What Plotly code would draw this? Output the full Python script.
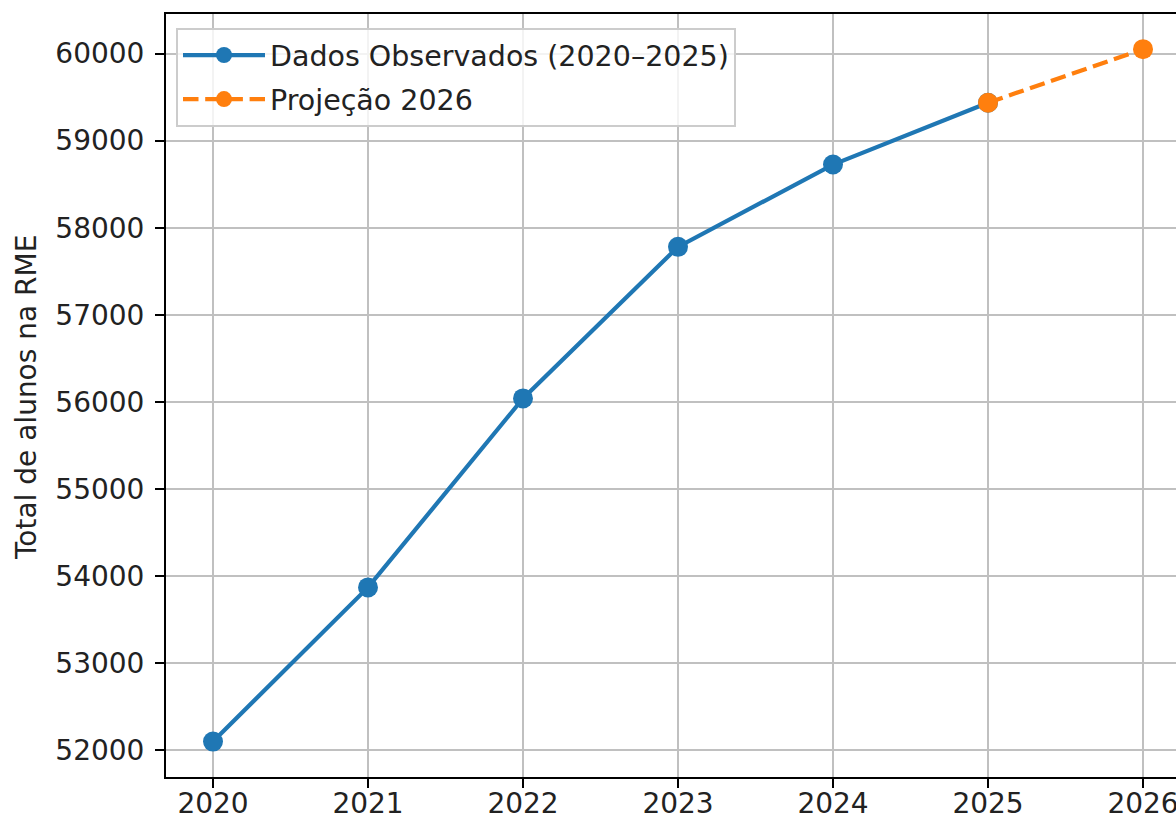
import plotly.graph_objects as go

years_obs = [2020, 2021, 2022, 2023, 2024, 2025]
values_obs = [52100, 53870, 56040, 57780, 58725, 59435]
years_proj = [2025, 2026]
values_proj = [59435, 60050]
x_ticks = [2020, 2021, 2022, 2023, 2024, 2025, 2026]
y_ticks = [52000, 53000, 54000, 55000, 56000, 57000, 58000, 59000, 60000]

BLUE = "#1f77b4"
ORANGE = "#ff7f0e"
FONT = "DejaVu Sans"
TXT = "#222222"
FS = 28

fig = go.Figure()
fig.add_trace(go.Scatter(
    x=years_obs, y=values_obs, mode="lines+markers",
    name="Dados Observados (2020\u20132025)",
    line=dict(color=BLUE, width=4.2),
    marker=dict(color=BLUE, size=20),
    legendgroup="a",
))
fig.add_trace(go.Scatter(
    x=years_proj, y=values_proj, mode="lines+markers",
    name="Proje\u00e7\u00e3o 2026",
    line=dict(color=ORANGE, width=4.2, dash="15.5px,6.7px"),
    marker=dict(color=ORANGE, size=20),
    legendgroup="b",
))

W, H = 1176, 822
L, T, B = 166, 14, 45
R = 0
plot_w = W - L - R
plot_h = H - T - B

fig.update_layout(
    width=W, height=H,
    margin=dict(l=L, r=R, t=T, b=B, autoexpand=False),
    paper_bgcolor="white", plot_bgcolor="white",
    font=dict(family=FONT, size=FS, color=TXT),
    showlegend=True,
    legend=dict(
        x=(176 - L) / plot_w, y=(H - B - 28) / plot_h,
        xanchor="left", yanchor="top",
        bgcolor="rgba(255,255,255,0.8)", bordercolor="#cccccc", borderwidth=2,
        font=dict(family=FONT, size=28.5, color=TXT),
        traceorder="grouped", tracegroupgap=4, itemwidth=82,
    ),
    xaxis=dict(
        range=[2020 - 47 / 155, 2020 + (W - R - 213) / 155],
        tickmode="array", tickvals=x_ticks, ticktext=[str(v) for v in x_ticks],
        showgrid=True, gridcolor="#c0c0c0", gridwidth=2,
        showline=True, linecolor="black", linewidth=2, mirror=True,
        ticks="outside", ticklen=9, tickwidth=2, tickcolor="black",
        zeroline=False, automargin=False, ticklabeloverflow="allow",
        ticklabelstandoff=-9,
        tickfont=dict(family=FONT, size=FS, color=TXT),
    ),
    yaxis=dict(
        range=[52000 - (777 - 750.3) / 0.0871, 52000 + (750.3 - 14) / 0.0871],
        tickmode="array", tickvals=y_ticks, ticktext=[str(v) for v in y_ticks],
        showgrid=True, gridcolor="#c0c0c0", gridwidth=2,
        showline=True, linecolor="black", linewidth=2, mirror=False,
        ticks="outside", ticklen=9, tickwidth=2, tickcolor="black",
        zeroline=False, automargin=False, ticklabelstandoff=5,
        tickfont=dict(family=FONT, size=FS, color=TXT),
    ),
    annotations=[dict(
        text="Total de alunos na RME", textangle=-90,
        xref="paper", yref="paper",
        x=(26 - L) / plot_w, y=(H - B - 398) / plot_h,
        xanchor="center", yanchor="middle", showarrow=False,
        font=dict(family=FONT, size=FS, color=TXT),
    )],
)

fig.write_html(
    "out.html",
    config={"displayModeBar": False},
    post_script="document.body.style.margin='0';document.body.style.overflow='hidden';",
)
